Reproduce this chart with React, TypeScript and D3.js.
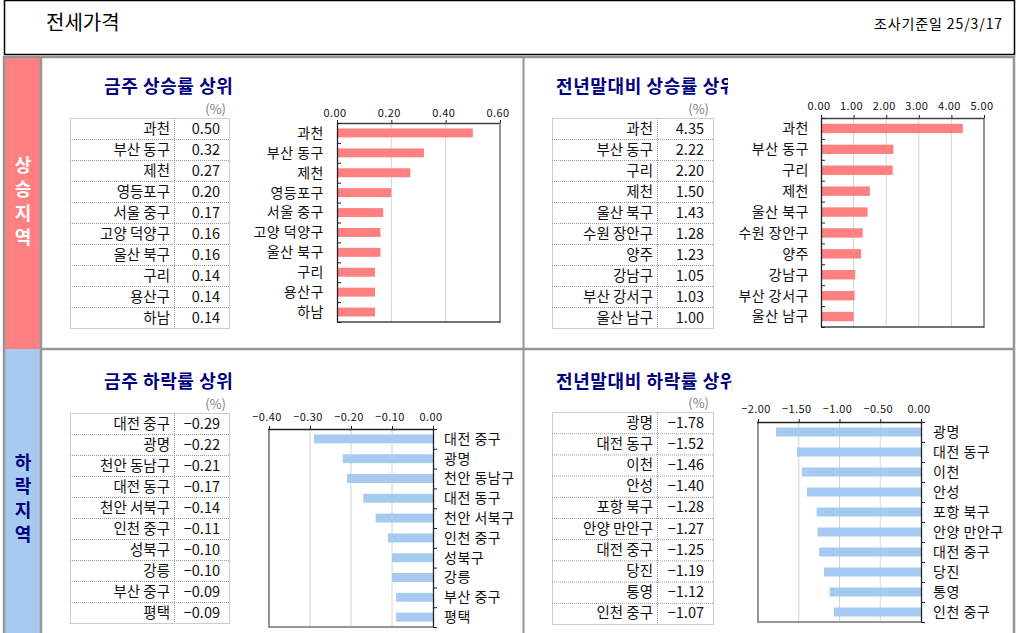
import React from 'react';
import * as d3 from 'd3';

// 금주 / 전년말대비 상승률·하락률 상위 10
const weekUpNames = ['과천', '부산 동구', '제천', '영등포구', '서울 중구', '고양 덕양구', '울산 북구', '구리', '용산구', '하남'];
const weekUpValues = [0.5, 0.32, 0.27, 0.2, 0.17, 0.16, 0.16, 0.14, 0.14, 0.14];
const weekUpTicks = [0, 0.2, 0.4, 0.6];

const ytdUpNames = ['과천', '부산 동구', '구리', '제천', '울산 북구', '수원 장안구', '양주', '강남구', '부산 강서구', '울산 남구'];
const ytdUpValues = [4.35, 2.22, 2.2, 1.5, 1.43, 1.28, 1.23, 1.05, 1.03, 1.0];
const ytdUpTicks = [0, 1, 2, 3, 4, 5];

const weekDownNames = ['대전 중구', '광명', '천안 동남구', '대전 동구', '천안 서북구', '인천 중구', '성북구', '강릉', '부산 중구', '평택'];
const weekDownValues = [-0.29, -0.22, -0.21, -0.17, -0.14, -0.11, -0.1, -0.1, -0.09, -0.09];
const weekDownTicks = [-0.4, -0.3, -0.2, -0.1, 0];

const ytdDownNames = ['광명', '대전 동구', '이천', '안성', '포항 북구', '안양 만안구', '대전 중구', '당진', '통영', '인천 중구'];
const ytdDownValues = [-1.78, -1.52, -1.46, -1.4, -1.28, -1.27, -1.25, -1.19, -1.12, -1.07];
const ytdDownTicks = [-2, -1.5, -1, -0.5, 0];

const FONT = "'Noto Sans CJK KR', 'Noto Sans', sans-serif";
const RED = '#ff8080';
const BLUE = '#a6caf0';
const NAVY = '#000080';
const GRAY = '#969696';
const fmt = d3.format('.2f');

interface PanelProps {
  id: string;
  title: string;
  names: string[];
  values: number[];
  ticks: number[];
  color: string;
  titleX: number;
  titleY: number;
  clipX: number;
  pctX: number;
  pctY: number;
  table: { x0: number; xDiv: number; x1: number; top: number; rowH: number };
  plot: { x0: number; x1: number; y0: number; y1: number };
  tickY: number;
  labelX: number;
  down: boolean;
}

const Panel: React.FC<PanelProps> = (p) => {
  const { table, plot } = p;
  const n = p.names.length;
  const dom = d3.extent(p.ticks) as [number, number];
  const x = d3.scaleLinear().domain(dom).range([plot.x0, plot.x1]);
  const y = d3.scaleBand<string>().domain(p.names).range([plot.y0, plot.y1]).padding(0);
  const barH = y.bandwidth() * 0.45;
  const rows = d3.range(n);
  const zero = x(0);

  return (
    <g>
      <defs>
        <clipPath id={`clip-${p.id}`}>
          <rect x={0} y={0} width={p.clipX} height={633} />
        </clipPath>
      </defs>
      <text
        x={p.titleX}
        y={p.titleY}
        dy="0.35em"
        fontSize={18}
        fontWeight={700}
        letterSpacing={0.6}
        fill={NAVY}
        clipPath={`url(#clip-${p.id})`}
      >
        {p.title}
      </text>
      <text x={p.pctX} y={p.pctY} dy="0.35em" fontSize={13} fill="#808080" textAnchor="end">
        (%)
      </text>

      {/* table */}
      <g stroke="#9a9a9a" strokeWidth={1} strokeDasharray="1,1" fill="none">
        <rect x={table.x0 + 0.5} y={table.top + 0.5} width={table.x1 - table.x0} height={table.rowH * n} />
        <line x1={table.xDiv + 0.5} x2={table.xDiv + 0.5} y1={table.top} y2={table.top + table.rowH * n} />
        {rows.slice(1).map((i) => (
          <line key={i} x1={table.x0} x2={table.x1} y1={table.top + table.rowH * i + 0.5} y2={table.top + table.rowH * i + 0.5} />
        ))}
      </g>
      {rows.map((i) => (
        <g key={i} fontSize={14.5} fill="#111">
          <text x={table.xDiv - 4} y={table.top + table.rowH * (i + 0.5)} dy="0.35em" textAnchor="end">
            {p.names[i]}
          </text>
          <text x={table.x1 - 9} y={table.top + table.rowH * (i + 0.5)} dy="0.35em" textAnchor="end">
            {fmt(p.values[i])}
          </text>
        </g>
      ))}

      {/* grid */}
      {p.ticks.slice(1, -1).map((t) => (
        <line key={t} x1={x(t)} x2={x(t)} y1={plot.y0} y2={plot.y1} stroke="#d4d4d4" strokeWidth={1} />
      ))}

      {/* bars */}
      {p.names.map((nm, i) => {
        const v = p.values[i];
        const x0 = Math.min(zero, x(v));
        return (
          <rect
            key={nm + i}
            x={x0}
            y={(y(nm) as number) + (y.bandwidth() - barH) / 2}
            width={Math.abs(x(v) - zero)}
            height={barH}
            fill={p.color}
          />
        );
      })}

      {/* frame */}
      {p.down ? (
        <g>
          <line x1={plot.x0} x2={plot.x0} y1={plot.y0} y2={plot.y1 + 1} stroke={GRAY} strokeWidth={2} />
          <line x1={plot.x0} x2={plot.x1} y1={plot.y1} y2={plot.y1} stroke={GRAY} strokeWidth={2} />
          <line x1={plot.x0 - 1} x2={plot.x1} y1={plot.y0 + 0.5} y2={plot.y0 + 0.5} stroke="#222" strokeWidth={1.3} />
          <line x1={plot.x1 + 0.5} x2={plot.x1 + 0.5} y1={plot.y0} y2={plot.y1} stroke="#222" strokeWidth={1.3} />
        </g>
      ) : (
        <g>
          <line x1={plot.x1} x2={plot.x1} y1={plot.y0} y2={plot.y1 + 1} stroke={GRAY} strokeWidth={2} />
          <line x1={plot.x0} x2={plot.x1} y1={plot.y1} y2={plot.y1} stroke="#444" strokeWidth={1.5} />
          <line x1={plot.x0} x2={plot.x1} y1={plot.y0 + 0.5} y2={plot.y0 + 0.5} stroke="#444" strokeWidth={1.3} />
          <line x1={plot.x0 + 0.5} x2={plot.x0 + 0.5} y1={plot.y0} y2={plot.y1} stroke="#222" strokeWidth={1.3} />
        </g>
      )}

      {/* category ticks */}
      {d3.range(n + 1).map((i) => {
        const yy = plot.y0 + y.step() * i + 0.5;
        const ax = p.down ? plot.x1 : plot.x0;
        return <line key={i} x1={ax} x2={ax + 4} y1={yy} y2={yy} stroke="#222" strokeWidth={1} />;
      })}
      {/* value ticks */}
      {p.ticks.map((t) => (
        <line key={t} x1={x(t) + 0.5} x2={x(t) + 0.5} y1={plot.y0 - 3} y2={plot.y0} stroke="#222" strokeWidth={1} />
      ))}
      {p.ticks.map((t) => (
        <text key={t} x={x(t) - 2} y={p.tickY} dy="0.35em" fontSize={11} letterSpacing={0.4} textAnchor="middle" fill="#111">
          {fmt(t)}
        </text>
      ))}

      {/* category labels */}
      {p.names.map((nm) => (
        <text
          key={nm}
          x={p.labelX}
          y={(y(nm) as number) + y.bandwidth() / 2}
          dy="0.35em"
          fontSize={14}
          letterSpacing={0.5}
          textAnchor={p.down ? 'start' : 'end'}
          fill="#111"
        >
          {nm}
        </text>
      ))}
    </g>
  );
};

const VerticalLabel: React.FC<{ text: string; x: number; y0: number; gap: number; fill: string }> = ({ text, x, y0, gap, fill }) => (
  <g>
    {Array.from(text).map((c, i) => (
      <text key={i} x={x} y={y0 + i * gap} dy="0.35em" textAnchor="middle" fontSize={18} fontWeight={700} fill={fill}>
        {c}
      </text>
    ))}
  </g>
);

export default function App() {
  return (
    <svg
      width={1017}
      height={633}
      style={{ position: 'absolute', left: 0, top: 0, background: '#fff' }}
      fontFamily={FONT}
    >
      {/* header */}
      <rect x={4.5} y={0.5} width={1010} height={54} fill="#fff" stroke="#000" strokeWidth={1.5} />
      <text x={46} y={23} dy="0.35em" fontSize={20} fill="#000">
        전세가격
      </text>
      <text x={1003} y={24} dy="0.35em" fontSize={14} letterSpacing={0.9} fill="#000" textAnchor="end">
        조사기준일 25/3/17
      </text>

      {/* side bands */}
      <rect x={5} y={58} width={36} height={291} fill={RED} />
      <rect x={5} y={349} width={36} height={290} fill={BLUE} />
      <VerticalLabel text="상승지역" x={23} y0={166} gap={24} fill="#fff" />
      <VerticalLabel text="하락지역" x={23} y0={463} gap={24} fill={NAVY} />

      {/* frame lines */}
      <line x1={3} x2={1015} y1={57} y2={57} stroke={GRAY} strokeWidth={2.5} />
      <line x1={4} x2={4} y1={56} y2={633} stroke={GRAY} strokeWidth={2.5} />
      <line x1={41} x2={41} y1={56} y2={633} stroke={GRAY} strokeWidth={2.5} />
      <line x1={1014} x2={1014} y1={56} y2={633} stroke={GRAY} strokeWidth={2.5} />
      <line x1={41} x2={1015} y1={349} y2={349} stroke={GRAY} strokeWidth={2.5} />
      <line x1={523.5} x2={523.5} y1={57} y2={633} stroke={GRAY} strokeWidth={2} />

      <Panel
        id="tl"
        title="금주 상승률 상위"
        names={weekUpNames}
        values={weekUpValues}
        ticks={weekUpTicks}
        color={RED}
        titleX={104}
        titleY={87}
        clipX={520}
        pctX={226}
        pctY={109}
        table={{ x0: 70, xDiv: 174, x1: 229, top: 118, rowH: 21 }}
        plot={{ x0: 337, x1: 500, y0: 123, y1: 322 }}
        tickY={113}
        labelX={324}
        down={false}
      />
      <Panel
        id="tr"
        title="전년말대비 상승률 상위"
        names={ytdUpNames}
        values={ytdUpValues}
        ticks={ytdUpTicks}
        color={RED}
        titleX={556}
        titleY={87}
        clipX={728}
        pctX={709}
        pctY={109}
        table={{ x0: 552, xDiv: 657, x1: 713, top: 118, rowH: 21 }}
        plot={{ x0: 821, x1: 984, y0: 118, y1: 327 }}
        tickY={106}
        labelX={809}
        down={false}
      />
      <Panel
        id="bl"
        title="금주 하락률 상위"
        names={weekDownNames}
        values={weekDownValues}
        ticks={weekDownTicks}
        color={BLUE}
        titleX={104}
        titleY={382}
        clipX={520}
        pctX={226}
        pctY={404}
        table={{ x0: 70, xDiv: 174, x1: 229, top: 413, rowH: 21 }}
        plot={{ x0: 269, x1: 433, y0: 429, y1: 627 }}
        tickY={417}
        labelX={444}
        down={true}
      />
      <Panel
        id="br"
        title="전년말대비 하락률 상위"
        names={ytdDownNames}
        values={ytdDownValues}
        ticks={ytdDownTicks}
        color={BLUE}
        titleX={556}
        titleY={382}
        clipX={732}
        pctX={709}
        pctY={403}
        table={{ x0: 552, xDiv: 657, x1: 713, top: 412, rowH: 21.2 }}
        plot={{ x0: 758, x1: 921, y0: 422, y1: 622 }}
        tickY={409}
        labelX={933}
        down={true}
      />
    </svg>
  );
}
